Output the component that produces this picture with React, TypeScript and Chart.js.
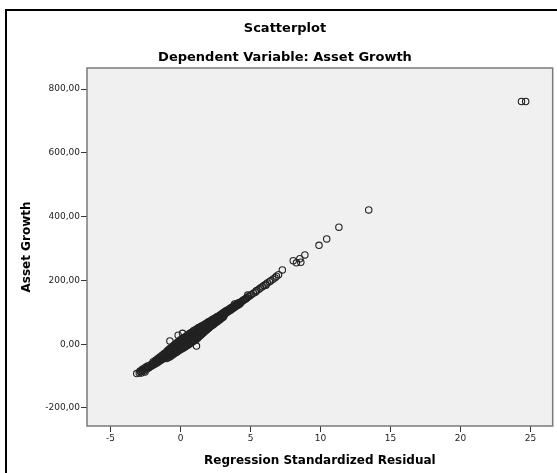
import React, { useEffect, useRef } from "react";
import { Chart, registerables } from "chart.js";

Chart.register(...registerables);

// Regression standardized residual (x) and asset growth (y)
const residuals: number[] = [
  -3.13, -2.95, -2.85, -2.77, -2.65, -2.54, -2.41, -2.3, -2.2, -2.15, -2.05, -2.0, -1.9, -1.85, -1.8, -1.75,
  -1.7, -1.65, -1.6, -1.55, -1.5, -1.45, -1.4, -1.35, -1.3, -1.25, -1.2, -1.15, -1.1, -1.05,
  -1.0, -0.97, -0.94, -0.9, -0.87, -0.84, -0.8, -0.77, -0.74, -0.7, -0.67, -0.64, -0.6, -0.57, -0.54,
  -0.5, -0.47, -0.44, -0.4, -0.37, -0.34, -0.3, -0.27, -0.24, -0.2, -0.17, -0.14, -0.1, -0.07, -0.04,
  0.0, 0.03, 0.06, 0.1, 0.13, 0.16, 0.2, 0.23, 0.26, 0.3, 0.33, 0.36, 0.4, 0.43, 0.46, 0.5, 0.53, 0.56,
  0.6, 0.63, 0.66, 0.7, 0.73, 0.76, 0.8, 0.83, 0.86, 0.9, 0.93, 0.96, 1.0, 1.03, 1.06, 1.1, 1.13, 1.16,
  1.2, 1.23, 1.26, 1.3, 1.33, 1.36, 1.4, 1.43, 1.46, 1.5, 1.53, 1.56, 1.6, 1.63, 1.66, 1.7, 1.73, 1.76,
  1.8, 1.83, 1.86, 1.9, 1.93, 1.96, 2.0, 2.03, 2.06, 2.1, 2.13, 2.16, 2.2, 2.23, 2.26, 2.3, 2.33, 2.36,
  2.4, 2.43, 2.46, 2.5, 2.53, 2.56, 2.6, 2.63, 2.66, 2.7, 2.73, 2.76, 2.8, 2.83, 2.86, 2.9, 2.93, 2.96,
  3.0, 3.03, 3.06, 3.1, 3.14, 3.2, 3.24, 3.3, 3.34, 3.4, 3.44, 3.5, 3.54, 3.6, 3.64, 3.7, 3.74, 3.8, 3.84,
  3.9, 3.94, 4.0, 4.05, 4.1, 4.15, 4.2, 4.25, 4.35, 4.45, 4.55, 4.65, 4.75, 4.85, 4.95, 5.05,
  5.2, 5.35, 5.45, 5.6, 5.7, 5.85, 5.95, 6.1, 6.2, 6.35, 6.45, 6.6, 6.75, 6.85, 7.0, 7.27,
  -0.76, -0.17, 0.14, 1.14, 2.79, 3.86, 4.8, 5.4, 6.1,
  8.05, 8.28, 8.52, 8.59, 8.88, 9.89, 10.44, 11.31, 13.44, 24.35, 24.65,
];

const assetGrowth: number[] = [
  -92, -90, -84, -82, -80, -87, -73, -72, -66, -70, -62, -67, -58, -63, -54, -59,
  -50, -55, -47, -52, -44, -49, -41, -46, -37, -43, -33, -40, -29, -37,
  -24, -31, -38, -19, -27, -35, -15, -23, -33, -12, -20, -30, -8, -18, -27,
  -4, -15, -25, -1, -11, -23, 3, -8, -20, 7, -5, -17, 10, -2, -14,
  14, 1, -12, 17, 4, -9, 20, 7, -7, 22, 10, -3, 25, 13, 0, 29, 16, 3,
  32, 19, 6, 35, 22, 9, 37, 25, 12, 41, 28, 15, 44, 31, 18, 46, 34, 21,
  49, 37, 25, 52, 40, 28, 54, 43, 32, 57, 46, 35, 59, 49, 38, 62, 52, 42,
  64, 55, 46, 67, 58, 49, 70, 61, 52, 72, 64, 56, 75, 67, 59, 78, 70, 62,
  80, 73, 66, 83, 76, 69, 86, 79, 72, 88, 82, 75, 91, 85, 79, 94, 88, 82,
  97, 91, 85, 100, 94, 103, 97, 106, 100, 108, 103, 111, 106, 114, 109, 117, 112, 120, 115,
  122, 118, 125, 121, 128, 124, 131, 127, 133, 137, 140, 142, 146, 149, 152, 155,
  160, 163, 168, 172, 176, 180, 184, 188, 192, 196, 199, 204, 208, 213, 218, 233,
  10, 28, 34, -6, 78, 126, 154, 167, 185,
  262, 255, 268, 257, 280, 310, 330, 367, 421, 761, 761,
];

// Further cases packed inside the dense band
const residualsDense: number[] = [
  -2.9, -2.8, -2.7, -2.6, -2.5, -2.4, -2.35, -2.25, -2.1, -1.95, -1.92, -1.78, -1.72, -1.62, -1.58,
  -1.48, -1.42, -1.32, -1.28, -1.18, -1.12, -1.02, -0.99, -0.92, -0.88, -0.82, -0.78, -0.72, -0.68,
  -0.62, -0.58, -0.52, -0.48, -0.42, -0.38, -0.32, -0.28, -0.22, -0.18, -0.12, -0.08, -0.02, 0.02,
  0.08, 0.12, 0.18, 0.22, 0.28, 0.32, 0.38, 0.42, 0.48, 0.52, 0.58, 0.62, 0.68, 0.72, 0.78, 0.82,
  0.88, 0.92, 0.98, 1.02, 1.08, 1.12, 1.18, 1.22, 1.28, 1.32, 1.38, 1.42, 1.48, 1.52, 1.58, 1.62,
  1.68, 1.72, 1.78, 1.82, 1.88, 1.92, 1.98, 2.02, 2.08, 2.12, 2.18, 2.22, 2.28, 2.32, 2.38, 2.42,
  2.48, 2.52, 2.58, 2.62, 2.68, 2.72, 2.78, 2.82, 2.88, 2.92, 2.98, 3.02, 3.08, 3.12,
  3.18, 3.28, 3.38, 3.48, 3.58, 3.68, 3.78, 3.88, 3.98, 4.08, 4.18, 4.3, 4.4, 4.5, 4.6, 4.7,
];

const growthDense: number[] = [
  -85, -90, -78, -84, -72, -78, -68, -74, -68, -55, -64, -50, -60, -45, -56,
  -40, -51, -35, -47, -30, -43, -27, -45, -22, -42, -19, -40, -16, -37,
  -13, -34, -9, -31, -6, -28, -2, -25, 1, -22, 5, -19, 8, -16,
  10, -14, 13, -11, 16, -9, 19, -6, 22, -3, 25, 0, 28, 3, 31, 6,
  34, 9, 37, 12, 40, 15, 43, 19, 46, 23, 49, 27, 52, 31, 55, 35,
  57, 39, 60, 43, 63, 47, 66, 51, 68, 57, 71, 61, 74, 65, 77, 68,
  80, 71, 83, 74, 85, 78, 88, 81, 91, 84, 94, 88, 97, 91,
  99, 101, 104, 107, 110, 113, 116, 119, 122, 125, 128, 131, 135, 138, 141, 144,
];

const yTicks: number[] = [-200, 0, 200, 400, 600, 800];
const xTicks: number[] = [-5, 0, 5, 10, 15, 20, 25];

const titleText = "Scatterplot";
const subtitleText = "Dependent Variable: Asset Growth";
const xTitle = "Regression Standardized Residual";
const yTitle = "Asset Growth";

const FONT = "'DejaVu Sans', Verdana, sans-serif";

const framePlugin = {
  id: "framePlugin",
  beforeDraw(chart: any) {
    const { ctx, chartArea } = chart;
    ctx.save();
    ctx.fillStyle = "#ffffff";
    ctx.fillRect(0, 0, chart.width, chart.height);
    ctx.strokeStyle = "#000000";
    ctx.lineWidth = 2;
    ctx.beginPath();
    ctx.moveTo(6, chart.height + 2);
    ctx.lineTo(6, 10);
    ctx.lineTo(chart.width + 2, 10);
    ctx.stroke();
    ctx.fillStyle = "#f0f0f0";
    ctx.fillRect(chartArea.left, chartArea.top, chartArea.right - chartArea.left, chartArea.bottom - chartArea.top);
    ctx.restore();
  },
  afterDraw(chart: any) {
    const { ctx, chartArea } = chart;
    ctx.save();
    ctx.strokeStyle = "#7a7a7a";
    ctx.lineWidth = 1.5;
    ctx.strokeRect(chartArea.left, chartArea.top, chartArea.right - chartArea.left, chartArea.bottom - chartArea.top);

    ctx.fillStyle = "#000000";
    ctx.textAlign = "center";
    ctx.textBaseline = "middle";
    ctx.font = `bold 13px ${FONT}`;
    ctx.fillText(titleText, 285, 29);
    ctx.fillText(subtitleText, 285, 58);

    ctx.font = `bold 12px ${FONT}`;
    const cx = (chartArea.left + chartArea.right) / 2;
    ctx.fillText(xTitle, cx, 461);
    const cy = (chartArea.top + chartArea.bottom) / 2;
    ctx.translate(27, cy);
    ctx.rotate(-Math.PI / 2);
    ctx.fillText(yTitle, 0, 0);
    ctx.restore();
  },
};

export default function App() {
  const ref = useRef<HTMLCanvasElement | null>(null);
  useEffect(() => {
    if (!ref.current) return;
    const points = residuals.map((r, i) => ({ x: r, y: assetGrowth[i] }));
    const densePoints = residualsDense.map((r, i) => ({ x: r, y: growthDense[i] }));
    const chart = new Chart(ref.current, {
      type: "scatter",
      data: {
        datasets: [
          {
            data: [...densePoints, ...points],
            pointRadius: 3.2,
            pointBorderWidth: 1.1,
            pointBorderColor: "#222222",
            pointBackgroundColor: "rgba(0,0,0,0)",
            pointHoverRadius: 3.2,
          },
        ],
      },
      options: {
        responsive: false,
        animation: false,
        events: [],
        layout: { padding: { left: 0, top: 68, right: 2, bottom: 0 } },
        plugins: { legend: { display: false }, tooltip: { enabled: false }, title: { display: false } },
        scales: {
          x: {
            type: "linear",
            min: -6.68,
            max: 26.58,
            afterFit(scale: any) {
              scale.height = 47;
            },
            afterBuildTicks(scale: any) {
              scale.ticks = xTicks.map((v) => ({ value: v }));
            },
            grid: { drawOnChartArea: false, drawTicks: true, tickLength: 6, tickColor: "#333333", tickWidth: 1 },
            border: { display: false },
            ticks: {
              padding: 1,
              maxRotation: 0,
              autoSkip: false,
              color: "#222222",
              font: { family: FONT, size: 9 },
              callback: (v: any) => String(v),
            },
          },
          y: {
            type: "linear",
            min: -256.5,
            max: 866,
            afterFit(scale: any) {
              scale.width = 87;
            },
            afterBuildTicks(scale: any) {
              scale.ticks = yTicks.map((v) => ({ value: v }));
            },
            grid: { drawOnChartArea: false, drawTicks: true, tickLength: 6, tickColor: "#333333", tickWidth: 1 },
            border: { display: false },
            ticks: {
              padding: 1,
              autoSkip: false,
              color: "#222222",
              font: { family: FONT, size: 9 },
              callback: (v: any) => Number(v).toFixed(2).replace(".", ","),
            },
          },
        },
      },
      plugins: [framePlugin],
    });
    return () => chart.destroy();
  }, []);

  return (
    <div style={{ position: "absolute", left: 0, top: 0, width: 557, height: 473, background: "#fff" }}>
      <canvas ref={ref} width={557} height={473} style={{ display: "block" }} />
    </div>
  );
}
